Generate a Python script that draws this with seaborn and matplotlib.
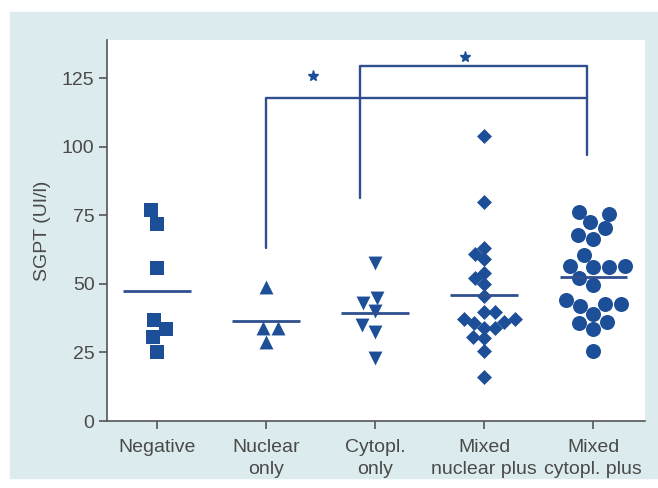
import numpy as np
import pandas as pd

import matplotlib
matplotlib.use('agg')

import matplotlib.pyplot as plt
from matplotlib.patches import Rectangle

import seaborn as sns

# Data (SGPT, UI/l)
groups = ['Negative', 'Nuclear\nonly', 'Cytopl.\nonly', 'Mixed\nnuclear plus', 'Mixed\ncytopl. plus']
negative = [77, 72, 56, 37, 33.5, 30.5, 25.3]
nuclear_only = [49, 34, 34, 29]
cytopl_only = [57.5, 45, 43, 40, 35, 32.5, 23]
mixed_nuclear = [104, 80, 61, 63, 59, 54, 52, 50, 45.5, 39.6, 39.6, 37.2, 37.2,
                 36.3, 35.6, 34.1, 34.1, 30.5, 30.2, 25.6, 16]
mixed_cytopl = [75.6, 76.2, 70.3, 72.5, 67.7, 66.5, 60.4, 56.4, 56.1, 56.4, 56.1,
                52.1, 49.6, 42.7, 42.1, 44.3, 42.7, 39.0, 36.2, 35.7, 33.5, 25.6]
yticks = [0, 25, 50, 75, 100, 125]

series = [negative, nuclear_only, cytopl_only, mixed_nuclear, mixed_cytopl]
df = pd.concat([pd.DataFrame({'group': g, 'sgpt': v}) for g, v in zip(groups, series)],
               ignore_index=True)

blue = '#1d4f98'
line_blue = '#2f4f8f'
grey = '#4a4a4a'
markers = ['s', '^', 'v', 'D', 'o']
sizes = [10.6, 10, 10, 7.6, 10.8]

sns.set_style('white')
plt.rcParams['font.family'] = ['Liberation Sans', 'DejaVu Sans']

fig = plt.figure(figsize=(6.58, 4.88), dpi=100)
fig.patches.append(Rectangle((10 / 658, 10 / 488), 1, (488 - 22) / 488,
                             transform=fig.transFigure, color='#dcebed', zorder=-10))
ax = fig.add_axes([107 / 658, 67 / 488, 538 / 658, 381 / 488])
ax.set_facecolor('white')

for g, m, s in zip(groups, markers, sizes):
    sns.swarmplot(data=df[df['group'] == g], x='group', y='sgpt', order=groups,
                  marker=m, size=s, color=blue, linewidth=0, ax=ax, warn_thresh=1)

# mean lines
for i, vals in enumerate(series):
    ax.hlines(np.mean(vals), i - 0.31, i + 0.31, color=line_blue, lw=2, zorder=3)

# significance brackets
ax.plot([1, 1, 3.94, 3.94], [63, 118, 118, 97], color=line_blue, lw=1.7)
ax.plot([1.86, 1.86, 3.94, 3.94], [81.5, 129.5, 129.5, 118], color=line_blue, lw=1.7)
ax.plot([1.43], [126], marker='*', ms=8, color=blue, ls='none')
ax.plot([2.82], [132.8], marker='*', ms=8, color=blue, ls='none')

ax.set_xlim(-0.455, 4.473)
ax.set_ylim(0, 139)
ax.set_yticks(yticks)
ax.set_xlabel('')
ax.set_ylabel('SGPT (UI/l)', fontsize=14, color=grey, labelpad=8)
ax.tick_params(axis='both', which='both', direction='out', length=6, width=1.2,
               color='#555555', labelsize=14, labelcolor=grey, bottom=True, left=True)
ax.tick_params(axis='x', pad=7)
ax.tick_params(axis='y', pad=3)
for lab in ax.get_xticklabels():
    lab.set_linespacing(1.35)

sns.despine(ax=ax)
for side in ['left', 'bottom']:
    ax.spines[side].set_color('#555555')
    ax.spines[side].set_linewidth(1.2)

fig.savefig('out.png', dpi=100)
plt.close()
